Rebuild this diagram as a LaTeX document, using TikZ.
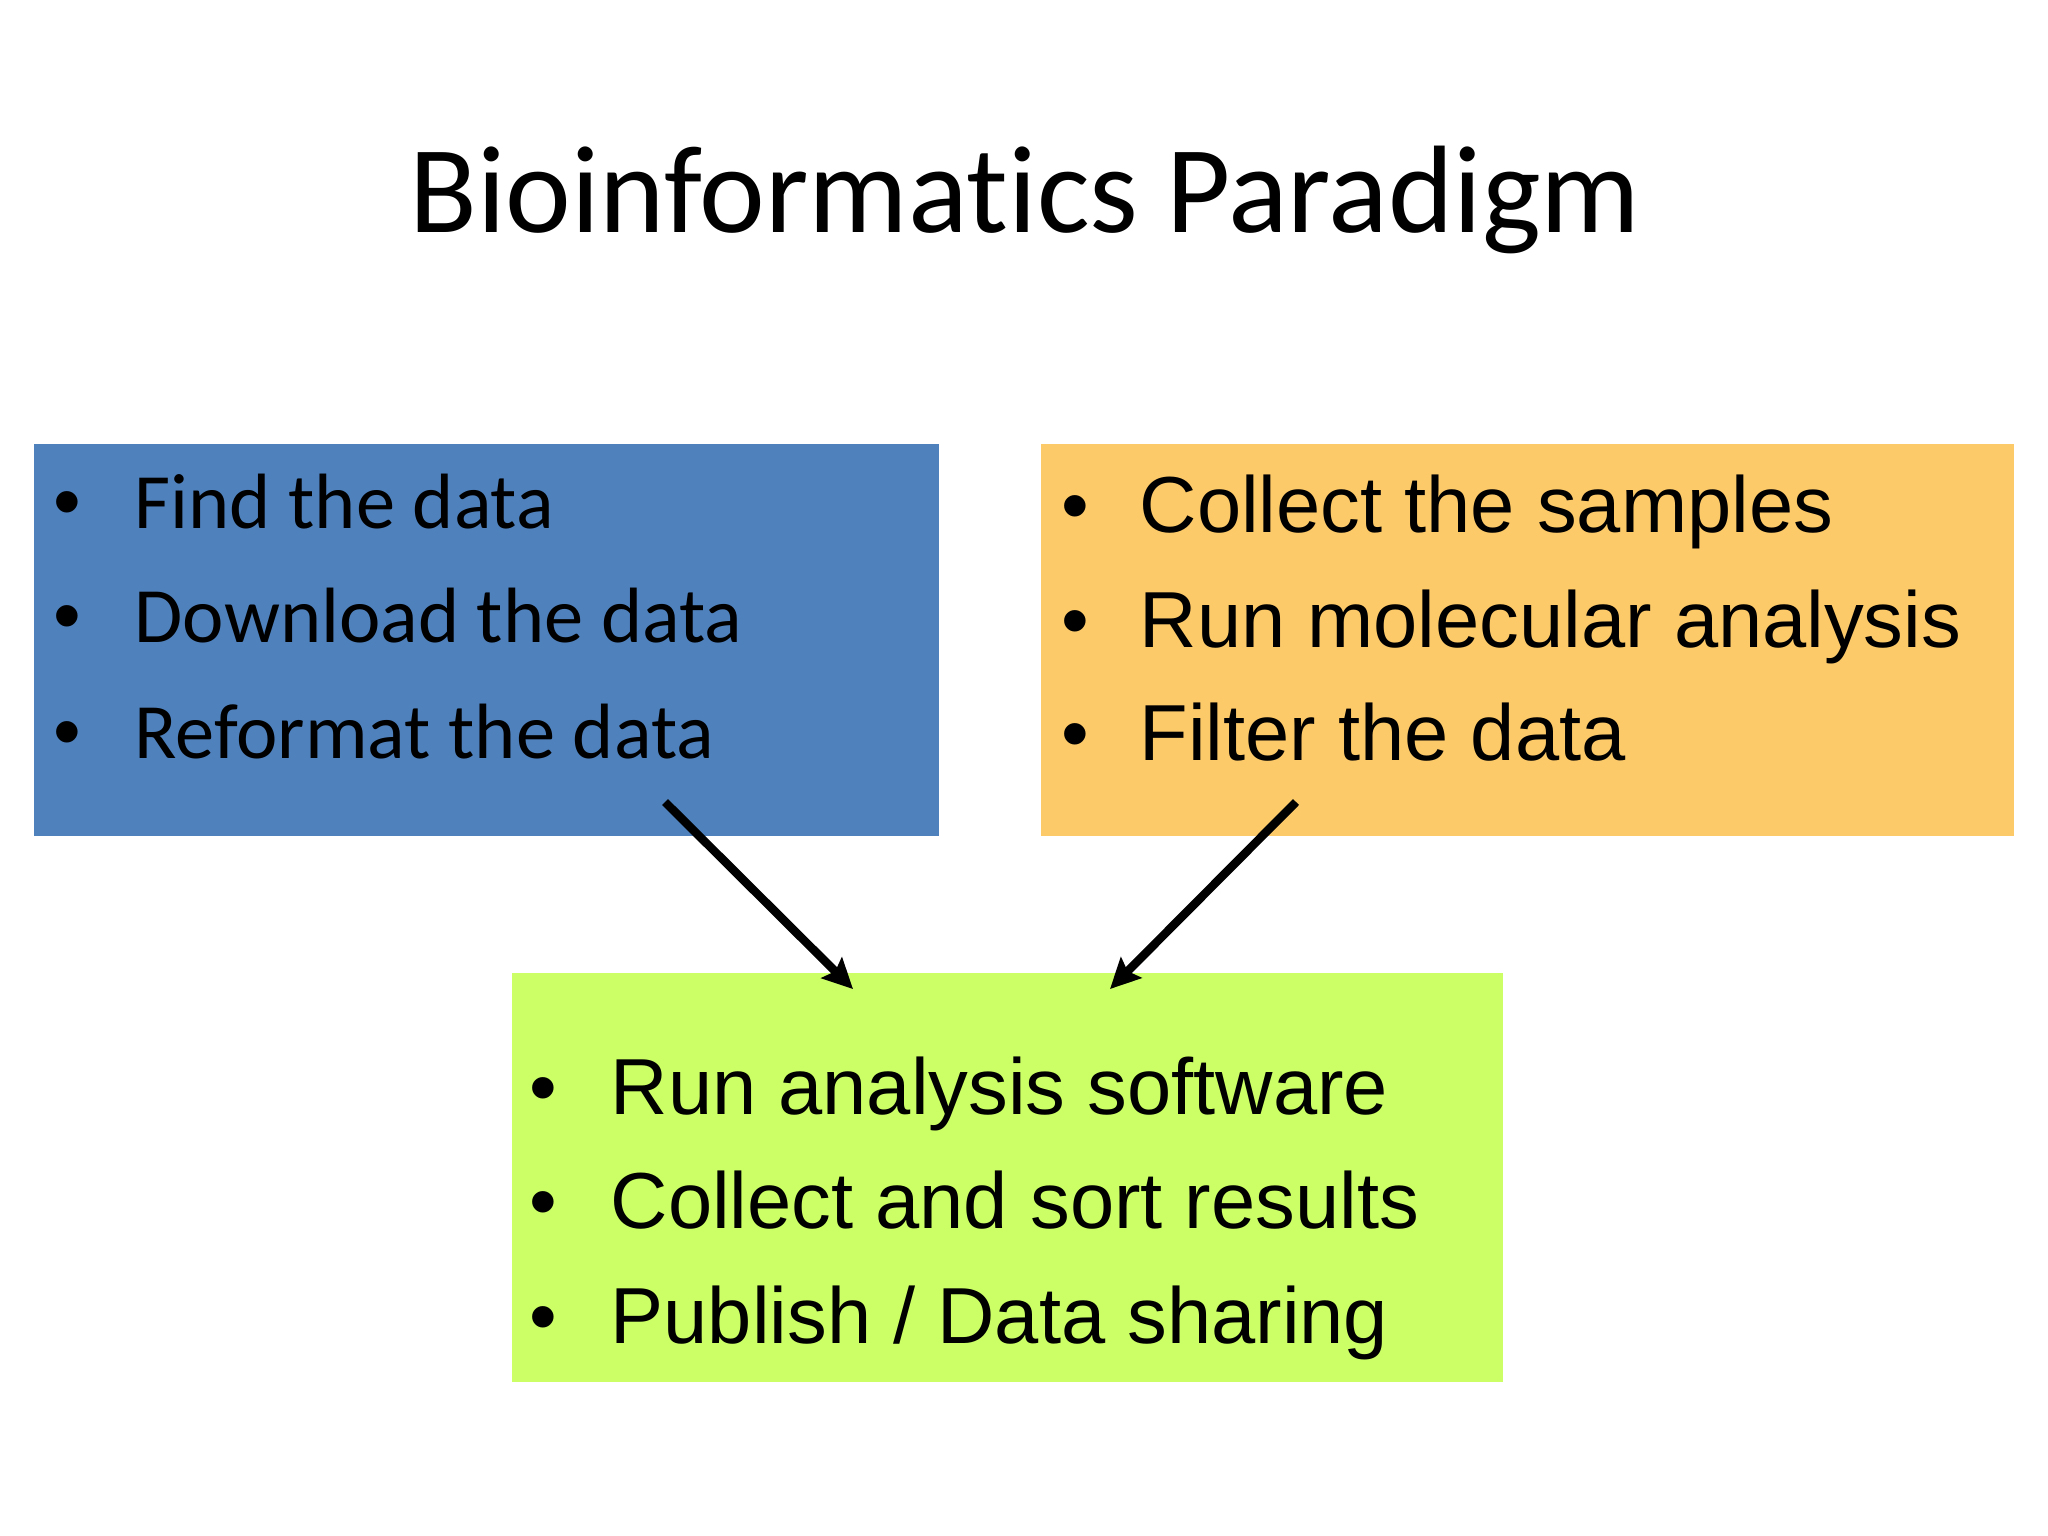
\documentclass[tikz,border=0pt]{standalone}
\usepackage{fontspec}
\setmainfont{Carlito}[Ligatures=NoCommon]
\newfontfamily\arialf{Liberation Sans}
\usetikzlibrary{arrows.meta}
\definecolor{bluefill}{HTML}{4F81BD}
\definecolor{orangefill}{HTML}{FDCA6A}
\definecolor{greenfill}{HTML}{CCFF66}
\tikzset{
  boxstyle/.style={inner sep=0pt, outer sep=0pt, anchor=north west},
  calline/.style={anchor=base west, inner sep=0pt, font=\fontsize{22.3}{26}\selectfont},
  arline/.style={anchor=base west, inner sep=0pt, font=\arialf\fontsize{22.6}{26}\selectfont},
  flowarrow/.style={line width=2.4pt, -{Stealth[length=0.3cm, width=0.29cm, inset=0.05cm]}},
}
\newcommand{\bul}[1]{\llap{\makebox[0pt][c]{\arialf\fontsize{22.5}{26}\selectfont •}\hspace{#1}}}
\begin{document}
\begin{tikzpicture}[x=0.01cm, y=-0.01cm]
\useasboundingbox (0,0) rectangle (2048,1536);
\fill[white] (0,0) rectangle (2048,1536);
% title
\node (title) [anchor=base, inner sep=0pt, font=\fontsize{35.4}{40}\selectfont] at (1025,232) {Bioinformatics Paradigm};
% boxes
\node (blue) [boxstyle, fill=bluefill, minimum width=9.04cm, minimum height=3.92cm] at (34,444) {};
\node (orange) [boxstyle, fill=orangefill, minimum width=9.72cm, minimum height=3.92cm] at (1041,444) {};
\node (green) [boxstyle, fill=greenfill, minimum width=9.90cm, minimum height=4.09cm] at (512,973) {};
% blue text
\node (b1) [calline] at (134,528) {\bul{0.67cm}Find the data};
\node (b2) [calline] at (134,642) {\bul{0.67cm}Download the data};
\node (b3) [calline] at (134,758) {\bul{0.67cm}Reformat the data};
% orange text
\node (o1) [arline] at (1139,532) {\bul{0.64cm}Collect the samples};
\node (o2) [arline] at (1139,647) {\bul{0.64cm}Run molecular analysis};
\node (o3) [arline] at (1139,760) {\bul{0.64cm}Filter the data};
% green text
\node (g1) [arline] at (610,1114) {\bul{0.67cm}Run analysis software};
\node (g2) [arline] at (610,1228) {\bul{0.67cm}Collect and sort results};
\node (g3) [arline] at (610,1343) {\bul{0.67cm}Publish / Data sharing};
% arrows
\coordinate (s1) at (665,802);
\coordinate (t1) at (853,989);
\coordinate (s2) at (1296,802);
\coordinate (t2) at (1110,989);
\draw[flowarrow] (s1) -- (t1);
\draw[flowarrow] (s2) -- (t2);
\end{tikzpicture}
\end{document}
